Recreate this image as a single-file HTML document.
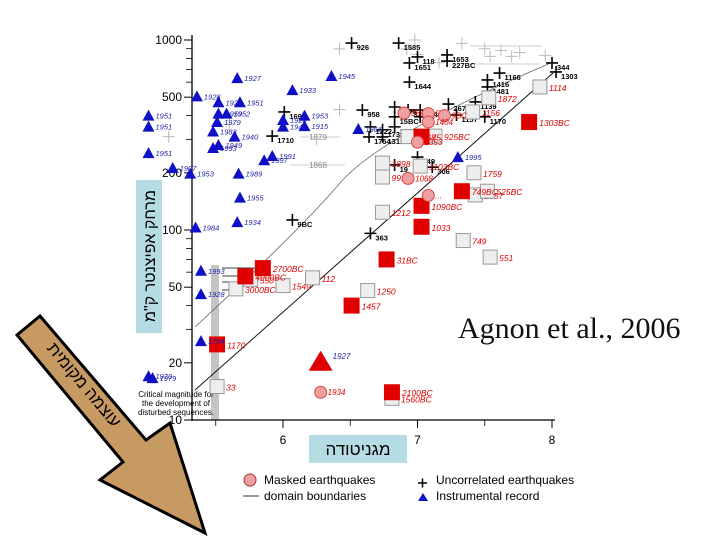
<!DOCTYPE html>
<html><head><meta charset="utf-8"><style>
body{margin:0;background:#fff;}
svg{display:block;font-family:"Liberation Sans","Noto Sans CJK JP",sans-serif;}
</style></head><body>
<svg id="c" width="720" height="540" viewBox="0 0 720 540" xmlns="http://www.w3.org/2000/svg">
<g id="plot"></g>
</svg>
<script>
// data arrays: magnitude, distance (km), labels
const triM=[5.66,5.0,5.0,5.0,5.36,5.52,5.52,5.58,5.51,5.48,5.52,5.48,5.64,5.68,5.86,5.92,5.67,5.31,5.18,5.68,5.66,5.35,6.36,6.07,6.0,6.0,6.16,6.16,6.56,7.30,5.39,5.39,5.39,5.0,5.03];
const triD=[630,400,350,254,505,470,410,410,370,330,280,270,310,470,233,245,198,198,212,148,110,103,646,545,379,350,400,352,340,242,61,46,26,17,16.6];
const triL=["1927","1951","1951","1951","1928","1921","1959","1952","1979","1983","1949","1993","1940","1951","1997","1991","1989","1953","1907","1955","1934","1984","1945","1933","1924","1947","1953","1915","1966","1995","1993","1928","1794","1970","1979"];
const sqM=[5.85,5.72,5.51,6.51,6.77,7.03,7.03,7.03,7.33,7.83,6.81];
const sqD=[63,57,25,40,70,310,134,104,160,370,14];
const sqL=["2700BC","4000BC","1170","1457","31BC","75","1090BC","1033","749BC","1303BC","2100BC"];
const esM=[5.76,5.65,6.0,6.22,6.63,6.81,5.51,7.54,7.34,6.74,6.74,7.02,7.13,7.42,7.43,7.52,7.53,7.41,7.91,6.93,6.74];
const esD=[55,49,51,56,48,13,15,72,88,225,124,217,312,200,153,160,496,418,566,310,190];
const esL=["550","3000BC","1549","112","1250","1560BC","33","551","749","1898","1212","1103BC","925BC","1759","1057","525BC","1872","1156","1114","1068","991"];
const ciM=[6.28,6.9,7.08,7.2,7.08,7.0,6.93,7.08];
const ciD=[14,413,410,400,370,290,187,152];
const ciL=["1934","3BC","555","9BC","1404","1353","1068","..."];
const plM=[6.51,6.86,6.94,7.0,7.22,7.22,6.94,8.0,8.03,7.61,7.52,7.52,7.43,6.83,6.93,6.83,7.02,7.02,7.23,6.65,6.74,6.64,6.83,6.74,7.29,7.5,7.0,6.83,7.11,6.01,5.92,6.59,6.07,6.65];
const plD=[963,963,757,814,834,775,601,757,679,670,616,566,472,444,428,394,428,394,460,349,337,309,349,309,403,394,242,220,214,418,312,428,113,96];
const plL=["926","1585","1651","118","1653","227BC","1644","344","1303","1166","1416","1481","1139","1496","317","15BC","344","37","2672","1222","1735","1754","1066","1312","1157","1170","349","19","306","1698","1710","958","9BC","363"];
const lpM=[6.42,6.92,6.98,7.0,7.16,7.33,7.5,7.54,7.62,7.7,7.76,7.95,5.15,5.6,6.42,6.25];
const lpD=[898,900,1000,840,760,960,900,820,880,820,860,830,310,360,430,300];
const mag=[6,7,8];
const minorMag=[5.5,6.5,7.5];
const dTicks=[10,20,50,100,200,500,1000];
const dMinor=[30,40,60,70,80,90,300,400,600,700,800,900];

const NS="http://www.w3.org/2000/svg";
const g=document.getElementById('plot');
const X=m=>283+(m-6)*134.5;
const Y=d=>40+(3-Math.log10(d))*190;
function el(t,a,p){const e=document.createElementNS(NS,t);for(const k in a)e.setAttribute(k,a[k]);(p||g).appendChild(e);return e;}
function tx(x,y,s,a){const e=el('text',Object.assign({x:x,y:y},a));e.textContent=s;return e;}

// arrow
let e=el('polygon',{points:"17,335 40,316 146,440 170,423 205,533 100,480 123,462",fill:"#c89a63",stroke:"#000","stroke-width":3,"stroke-linejoin":"miter"});

e=tx(0,0,"עוצמה מקומית",{"font-size":17,fill:"#000","text-anchor":"middle","dominant-baseline":"central",transform:"translate(84,385) rotate(50)"});


// title boxes
e=el('rect',{x:136,y:180,width:26,height:153,fill:"#b5dce3"});

e=tx(0,0,'מרחק אפיצנטר ק"מ',{"font-size":16,"text-anchor":"middle",transform:"translate(155,256) rotate(-90)"});

e=el('rect',{x:309,y:435,width:98,height:28,fill:"#b5dce3"});

e=tx(358,455,"מגניטודה",{"font-size":17,"text-anchor":"middle"});


// gray bar
e=el('rect',{x:211,y:265,width:8,height:155,fill:"#c4c4c4"});


// domain lines
e=el('path',{d:"M195,327 Q300,230 340,183 T553,62",fill:"none",stroke:"#666","stroke-width":0.8});

e=el('line',{x1:195,y1:390,x2:553,y2:73,stroke:"#111","stroke-width":1});

[[300,137,340],[290,165,345],[470,46,542],[470,64,540]].forEach(l=>{
 const ln=el('line',{x1:l[0],y1:l[1],x2:l[2],y2:l[1],stroke:"#bbb","stroke-width":0.8});
 
 
});
tx(318,140,"1879",{"font-size":8,fill:"#888","text-anchor":"middle"});
tx(318,168,"1868",{"font-size":8,fill:"#888","text-anchor":"middle"});
[[222,268,258],[222,276,245],[222,282,242],[222,290,232]].forEach(a=>{
 const ln=el('line',{x1:a[0],y1:a[1],x2:a[2],y2:a[1],stroke:"#000","stroke-width":0.8});
 
 
});

// axes
e=el('line',{x1:192,y1:35,x2:192,y2:421,stroke:"#000","stroke-width":1.3});

e=el('line',{x1:192,y1:420,x2:555,y2:420,stroke:"#000","stroke-width":1.3});

dTicks.forEach(d=>{
 el('line',{x1:184,y1:Y(d),x2:192,y2:Y(d),stroke:"#000"});
 const t=tx(182,Y(d)+4,String(d),{"font-size":12,"text-anchor":"end"});
 
 
});
dMinor.forEach(d=>el('line',{x1:186,y1:Y(d),x2:192,y2:Y(d),stroke:"#000","stroke-width":0.8}));
mag.forEach(m=>{
 el('line',{x1:X(m),y1:420,x2:X(m),y2:428,stroke:"#000"});
 const t=tx(X(m),444,String(m),{"font-size":12,"text-anchor":"middle"});
 
 
});
minorMag.forEach(m=>el('line',{x1:X(m),y1:420,x2:X(m),y2:426,stroke:"#000","stroke-width":0.8}));

["Critical magnitude for","the development of","disturbed sequences."].forEach((s,i)=>{
 const t=tx(176,397+i*9,s,{"font-size":8,"text-anchor":"middle"});
 
 
});

lpM.forEach((m,i)=>{
 const p=el('path',{d:`M${X(m)-6},${Y(lpD[i])}h12M${X(m)},${Y(lpD[i])-6}v12`,stroke:"#bbb","stroke-width":1});
 
 
});
plM.forEach((m,i)=>{
 const x=X(m),y=Y(plD[i]);
 const p=el('path',{d:`M${x-6},${y}h12M${x},${y-6}v12`,stroke:"#000","stroke-width":1.6});
 
 
 tx(x+5,y+7,plL[i],{"font-size":7.5,"font-weight":"bold"});
});
esM.forEach((m,i)=>{
 const x=X(m),y=Y(esD[i]);
 const r=el('rect',{x:x-7,y:y-7,width:14,height:14,fill:"#eee",stroke:"#999"});
 
 
 tx(x+9,y+4,esL[i],{"font-size":8.5,"font-style":"italic",fill:"#d00"});
});
sqM.forEach((m,i)=>{
 const x=X(m),y=Y(sqD[i]);
 const r=el('rect',{x:x-8,y:y-8,width:16,height:16,fill:"#e00000"});
 
 
 tx(x+10,y+4,sqL[i],{"font-size":8.5,"font-style":"italic",fill:"#d00"});
});
ciM.forEach((m,i)=>{
 const x=X(m),y=Y(ciD[i]);
 const c=el('circle',{cx:x,cy:y,r:6,fill:"#f0a0a0",stroke:"#d44"});
 
 
 tx(x+7,y+3,ciL[i],{"font-size":8,"font-style":"italic",fill:"#d00"});
});
triM.forEach((m,i)=>{
 const x=X(m),y=Y(triD[i]);
 const t=el('polygon',{points:`${x},${y-6} ${x+6},${y+5} ${x-6},${y+5}`,fill:"#1010c8"});
 
 
 tx(x+7,y+3,triL[i],{"font-size":7.5,"font-style":"italic",fill:"#22a"});
});
e=el('polygon',{points:`${X(6.28)},${Y(20)-12} ${X(6.28)+12},${Y(20)+8} ${X(6.28)-12},${Y(20)+8}`,fill:"#e00000"});

tx(X(6.28)+12,Y(20)-4,"1927",{"font-size":8,"font-style":"italic",fill:"#22a"});

e=tx(458,338,"Agnon et al., 2006",{"font-size":30,"font-family":"Liberation Serif, serif",fill:"#111"});


const lg=el('g',{});


el('circle',{cx:250,cy:480,r:6,fill:"#f0a0a0",stroke:"#a33"},lg);
tx(264,484,"Masked earthquakes",{"font-size":12},lg);
el('line',{x1:243,y1:496,x2:259,y2:496,stroke:"#333"},lg);
tx(264,500,"domain boundaries",{"font-size":12},lg);
el('path',{d:"M418,483h9M422.5,478.5v9",stroke:"#000","stroke-width":1.5},lg);
tx(436,484,"Uncorrelated earthquakes",{"font-size":12},lg);
el('polygon',{points:"423,493 428,501 418,501",fill:"#1010c8"},lg);
tx(436,500,"Instrumental record",{"font-size":12},lg);
</script>
</body></html>
